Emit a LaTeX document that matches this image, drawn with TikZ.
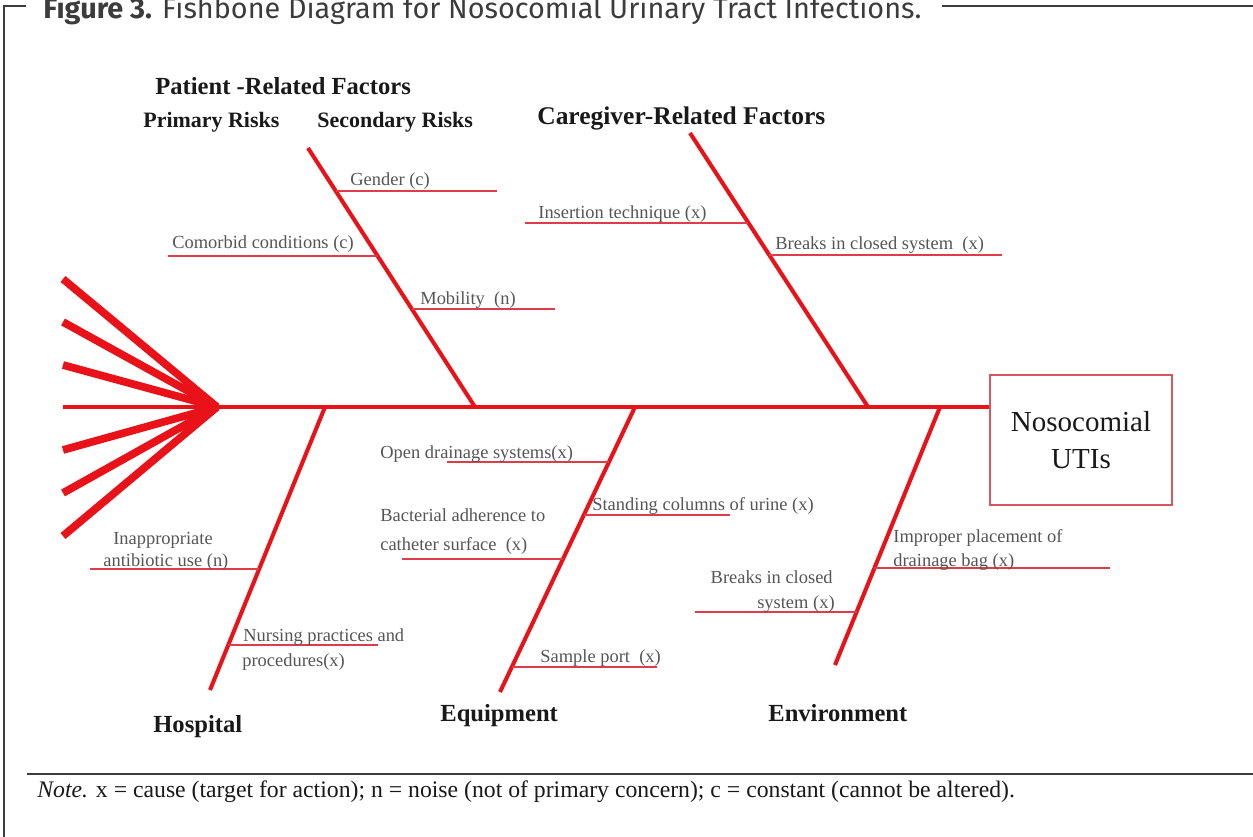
\documentclass[tikz,border=0pt]{standalone}
\usepackage{fontspec}
\setmainfont{Liberation Serif}
\newfontfamily\titlefont{Fira Sans}
\usetikzlibrary{calc}
\definecolor{fishred}{RGB}{232,18,24}
\definecolor{ribred}{RGB}{222,60,72}
\definecolor{boxred}{RGB}{215,85,95}
\definecolor{causegray}{RGB}{85,85,85}
\definecolor{headblack}{RGB}{25,25,25}
\definecolor{framegray}{RGB}{60,60,60}
\begin{document}
\begin{tikzpicture}[x=0.02cm, y=-0.02cm,
                    bone/.style  = {draw=fishred, line width=2.3pt},
                    fin/.style   = {draw=fishred, line width=4.4pt},
                    rib/.style   = {draw=ribred, line width=1pt},
                    cause/.style = {text=causegray, inner sep=0pt, anchor=base west,
                                    font=\fontsize{10.5}{12}\selectfont},
                    group/.style = {text=headblack, inner sep=0pt, anchor=base west,
                                    font=\fontsize{14}{16}\selectfont\bfseries},
                    frame/.style = {draw=framegray, line width=1pt}]
  \useasboundingbox (0,0) rectangle (1253,837);
  % frame and title
  \node[anchor=base west, inner sep=0pt, text=framegray] (title) at (43,19)
    {\titlefont\fontsize{16.4}{19}\selectfont\textbf{Figure 3.} Fishbone Diagram for Nosocomial Urinary Tract Infections.};
  \draw[frame] (26,6) -- (4,6) -- (4,837);
  \draw[frame] (942,6) -- (1253,6);
  \draw[frame] (27,774) -- (1253,774);
  \node[anchor=base west, inner sep=0pt, text=headblack, font=\fontsize{13.5}{16}\selectfont] (note) at (37,797)
    {\textit{Note.} x = cause (target for action); n = noise (not of primary concern); c = constant (cannot be altered).};
  % head and spine
  \node[draw=boxred, line width=1.1pt, minimum width=3.64cm, minimum height=2.6cm, align=center,
        text=headblack, font=\fontsize{16.5}{21.5}\selectfont] (uti) at (1081,440) {Nosocomial\\UTIs};
  \coordinate (tail) at (217,407);
  \foreach \y [count=\i] in {279,322,365,450,493,536} {
    \coordinate (fin\i) at (63,\y);
    \draw[fin] (tail) -- (fin\i);
  }
  \coordinate (fin0) at (63,407);
  \draw[bone, line width=2.8pt] (fin0) -- (tail -| uti.west);
  % bones
  \coordinate (pat) at (308,148);       \coordinate (patfoot) at (475,407);
  \coordinate (care) at (690,133);      \coordinate (carefoot) at (868,407);
  \coordinate (hosptop) at (325,407);   \coordinate (hosp) at (210,690);
  \coordinate (equiptop) at (635,407);  \coordinate (equip) at (500,692);
  \coordinate (envtop) at (940,407);    \coordinate (env) at (835,665);
  \draw[bone] (pat) -- (patfoot);
  \draw[bone] (care) -- (carefoot);
  \draw[bone] (hosptop) -- (hosp);
  \draw[bone] (equiptop) -- (equip);
  \draw[bone] (envtop) -- (env);
  % ribs
  \draw[rib] ($(pat)!0.166!(patfoot)$) -- ++(161,0);
  \draw[rib] ($(pat)!0.417!(patfoot)$) -- ++(-210,0);
  \draw[rib] ($(pat)!0.622!(patfoot)$) -- ++(143,0);
  \draw[rib] ($(care)!0.328!(carefoot)$) -- ++(-223,0);
  \draw[rib] ($(care)!0.445!(carefoot)$) -- ++(233,0);
  \draw[rib] ($(hosptop)!0.572!(hosp)$) -- ++(-169,0);
  \draw[rib] ($(hosptop)!0.841!(hosp)$) -- ++(150,0);
  \draw[rib] ($(equiptop)!0.193!(equip)$) -- ++(-162,0);
  \draw[rib] ($(equiptop)!0.379!(equip)$) -- ++(146,0);
  \draw[rib] ($(equiptop)!0.533!(equip)$) -- ++(-161,0);
  \draw[rib] ($(equiptop)!0.912!(equip)$) -- ++(145,0);
  \draw[rib] ($(envtop)!0.624!(env)$) -- ++(235,0);
  \draw[rib] ($(envtop)!0.795!(env)$) -- ++(-162,0);
  % group labels
  \node[group] (patlab) at (155,95) {Patient -Related Factors};
  \node[group, font=\fontsize{12.5}{14}\selectfont\bfseries] (prim) at (143,128) {Primary Risks};
  \node[group, font=\fontsize{12.5}{14}\selectfont\bfseries] (sec) at (317,128) {Secondary Risks};
  \node[group, font=\fontsize{14.5}{16}\selectfont\bfseries] (carelab) at (537,125) {Caregiver-Related Factors};
  \node[group] (hosplab) at (153,732) {Hospital};
  \node[group] (equiplab) at (440,721) {Equipment};
  \node[group] (envlab) at (768,721) {Environment};
  % causes
  \node[cause] (gender) at (350,186) {Gender (c)};
  \node[cause] (comorb) at (172,249) {Comorbid conditions (c)};
  \node[cause] (mobil) at (420,305) {Mobility\ \ (n)};
  \node[cause] (insert) at (538,219) {Insertion technique (x)};
  \node[cause] (breaks) at (775,250) {Breaks in closed system\ \ (x)};
  \node[cause] (open) at (380,458) {Open drainage systems(x)};
  \node[cause] (stand) at (592,510) {Standing columns of urine (x)};
  \node[cause] (bact1) at (380,521) {Bacterial adherence to};
  \node[cause] (bact2) at (380,550) {catheter surface\ \ (x)};
  \node[cause, anchor=base] (inapp1) at (163,544) {Inappropriate};
  \node[cause] (inapp2) at (103,566) {antibiotic use (n)};
  \node[cause] (nurs1) at (243,641) {Nursing practices and};
  \node[cause] (nurs2) at (242,666) {procedures(x)};
  \node[cause] (sample) at (540,662) {Sample port\ \ (x)};
  \node[cause, anchor=base east] (envbr1) at (833,583) {Breaks in closed};
  \node[cause, anchor=base east] (envbr2) at (835,608) {system (x)};
  \node[cause] (improp1) at (893,542) {Improper placement of};
  \node[cause] (improp2) at (893,566) {drainage bag (x)};
\end{tikzpicture}
\end{document}
